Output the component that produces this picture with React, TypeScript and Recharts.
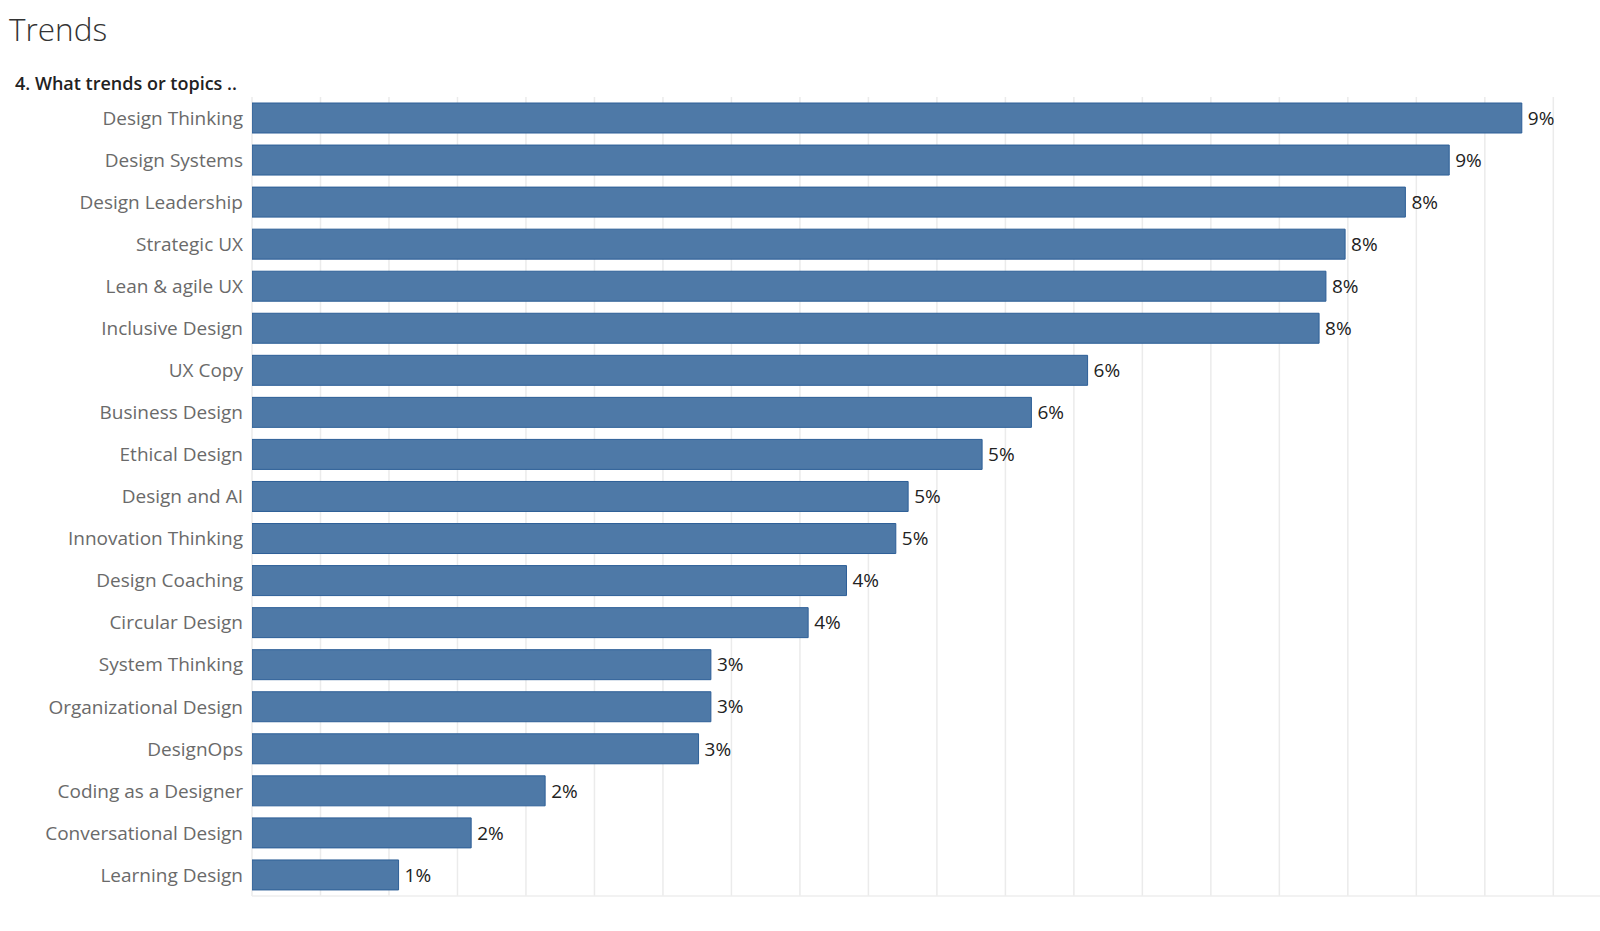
import React from "react";
import { BarChart, Bar, XAxis, YAxis, CartesianGrid, LabelList } from "recharts";

const categories = [
  "Design Thinking",
  "Design Systems",
  "Design Leadership",
  "Strategic UX",
  "Lean & agile UX",
  "Inclusive Design",
  "UX Copy",
  "Business Design",
  "Ethical Design",
  "Design and AI",
  "Innovation Thinking",
  "Design Coaching",
  "Circular Design",
  "System Thinking",
  "Organizational Design",
  "DesignOps",
  "Coding as a Designer",
  "Conversational Design",
  "Learning Design",
];

const shares = [
  9.27, 8.74, 8.42, 7.98, 7.84, 7.79, 6.1, 5.69, 5.33, 4.79, 4.7, 4.34, 4.06,
  3.35, 3.35, 3.26, 2.14, 1.6, 1.07,
];

const gridTicks = [
  0.5, 1, 1.5, 2, 2.5, 3, 3.5, 4, 4.5, 5, 5.5, 6, 6.5, 7, 7.5, 8, 8.5, 9, 9.5,
];

const data = categories.map((c, i) => ({ topic: c, value: shares[i] }));

const FONT = "'Open Sans', sans-serif";

export default function App() {
  return (
    <div
      style={{
        position: "absolute",
        left: 0,
        top: 0,
        width: 1600,
        height: 931,
        background: "#fff",
        fontFamily: FONT,
        overflow: "hidden",
      }}
    >
      <div
        style={{
          position: "absolute",
          left: 9,
          top: 9,
          fontSize: 31.5,
          fontWeight: 300,
          color: "#333",
          lineHeight: "40px",
        }}
      >
        Trends
      </div>
      <div
        style={{
          position: "absolute",
          left: 15,
          top: 70,
          fontSize: 18,
          fontWeight: 600,
          color: "#222",
          lineHeight: "26px",
        }}
      >
        4. What trends or topics ..
      </div>
      <div style={{ position: "absolute", left: 0, top: 0 }}>
        <BarChart
          width={1604}
          height={931}
          data={data}
          layout="vertical"
          margin={{ top: 97, right: 0, bottom: 0, left: 0 }}
          barSize={30}
        >
          <CartesianGrid
            horizontal={false}
            vertical={true}
            stroke="#ebebeb"
            strokeWidth={1.5}
          />
          <XAxis
            type="number"
            domain={[0, 9.87]}
            ticks={gridTicks}
            tick={{ fill: "transparent", fontSize: 10 }}
            tickLine={false}
            axisLine={{ stroke: "#eeeeee", strokeWidth: 1.5 }}
            height={35}
            allowDataOverflow
          />
          <YAxis
            type="category"
            dataKey="topic"
            width={252}
            axisLine={false}
            tickLine={false}
            tickMargin={3}
            tick={{ fontSize: 19, fill: "#6a6a6a" }}
            interval={0}
          />
          <Bar
            dataKey="value"
            fill="#4e79a7"
            stroke="#2d5f97"
            strokeWidth={1}
            isAnimationActive={false}
          >
            <LabelList
              dataKey="value"
              position="right"
              offset={6}
              formatter={(v: number) => `${Math.round(v)}%`}
              style={{ fontSize: 19, fill: "#222" }}
            />
          </Bar>
        </BarChart>
      </div>
    </div>
  );
}
